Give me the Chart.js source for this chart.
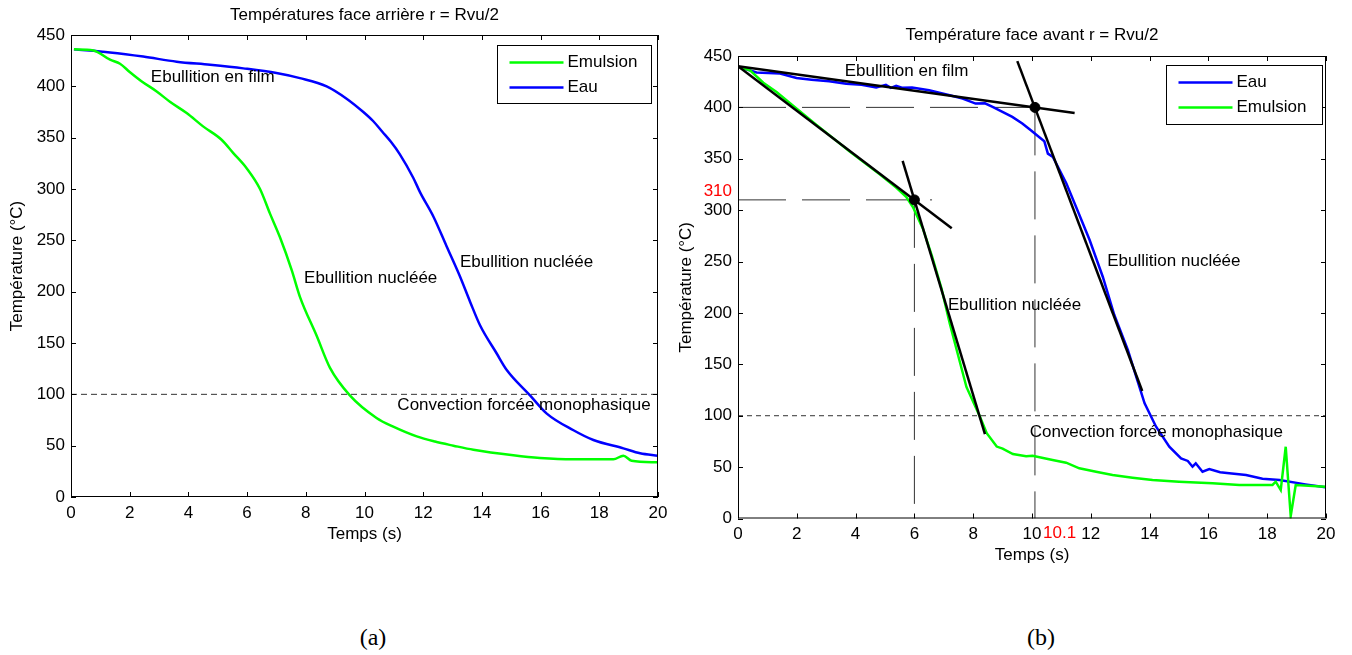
<!DOCTYPE html>
<html lang="fr">
<head>
<meta charset="UTF-8">
<title>Températures r = Rvu/2</title>
<script src="https://cdn.jsdelivr.net/npm/chart.js"></script>
<style>
  body { margin: 0; background: #fff; width: 1352px; height: 655px; position: relative; overflow: hidden; }
  .panel { position: absolute; top: 0; }
  .caption { position: absolute; top: 623px; line-height: 28px; font-family: 'Liberation Serif', 'Times New Roman', serif; font-size: 24px; transform: translateX(-50%); }
</style>
</head>
<body>
<div class="panel" style="left:0"><canvas id="chartA" width="676" height="575"></canvas></div>
<div class="panel" style="left:676px"><canvas id="chartB" width="676" height="580"></canvas></div>
<div class="caption" style="left:373px">(a)</div>
<div class="caption" style="left:1041px">(b)</div>

<script>
// (a) face arrière
const tEmulsionA = [0.1, 0.76, 1.33, 1.67, 2.0, 2.4, 2.92, 3.37, 3.94, 4.5, 5.13, 5.53, 5.99, 6.44, 6.78, 7.12, 7.52, 7.8, 8.37, 8.82, 9.5, 10.41, 10.98, 11.78, 12.4, 13.03, 13.71, 15.07, 15.98, 17.1, 18.48, 18.82, 19.1, 20];
const vEmulsionA = [436, 435, 426, 422, 414, 405, 395, 385, 374, 361, 348, 335, 320, 300, 276, 253, 221, 195, 157, 126, 99, 77, 68.5, 59, 54, 50, 46, 40.6, 38, 36.7, 36.7, 40.2, 35.4, 33.8];
const tEauA = [0.1, 1.33, 2.46, 3.6, 4.74, 5.87, 7.0, 7.8, 8.71, 9.39, 9.96, 10.3, 10.6, 10.9, 11.2, 11.66, 11.89, 12.35, 12.8, 13.25, 13.6, 13.94, 14.5, 14.84, 15.64, 16.2, 17.12, 17.8, 18.82, 19.39, 20];
const vEauA = [436, 433, 429, 424, 421, 417.5, 413, 408, 400, 388, 375, 366, 356, 346, 334, 311, 297, 273, 244, 215, 190, 167, 140, 124, 99, 81.5, 65, 55.5, 47.4, 42.6, 40.2];

// (b) face avant
const tEauB = [0.07, 0.63, 1.43, 1.99, 2.5, 3.1, 3.68, 4.2, 4.7, 5.03, 5.2, 5.38, 5.6, 5.92, 6.5, 7.2, 7.64, 8.08, 8.4, 8.66, 9.33, 9.67, 9.96, 10.25, 10.42, 10.54, 10.71, 11.17, 11.5, 11.96, 12.41, 12.8, 13.26, 13.6, 13.83, 14.22, 14.67, 15.07, 15.3, 15.46, 15.57, 15.8, 16.03, 16.4, 16.71, 17.28, 17.84, 18.42, 19.3, 19.98];
const vEauB = [439, 434, 433, 428.6, 427, 425.4, 423, 422, 419.3, 422, 419, 421, 419, 419.3, 416.7, 411.8, 408.6, 403.7, 404, 400.4, 390.7, 384.3, 377.7, 371, 367, 355, 351.8, 326, 303, 271, 235, 198, 164, 133, 112, 89.3, 69.8, 58.5, 56, 50.4, 53.7, 45.5, 48.1, 45, 44, 42.3, 38.7, 37.4, 33.2, 30.3];
const tEmulsionB = [0.07, 0.41, 0.86, 1.31, 1.77, 2.67, 3.8, 4.82, 5.38, 5.72, 5.95, 6.29, 6.6, 6.92, 7.2, 7.77, 8.23, 8.46, 8.8, 9.0, 9.35, 9.8, 10.02, 10.7, 11.16, 11.61, 12.18, 12.74, 13.42, 14.1, 15.0, 16.14, 17.05, 18.18, 18.29, 18.46, 18.63, 18.8, 18.97, 19.98];
const vEmulsionB = [439, 436, 424, 415, 404, 383, 357, 335, 322, 313, 303, 282, 255, 224, 190, 128, 99, 83, 70, 68, 62.7, 60.5, 61, 57, 54.3, 48.8, 45.5, 42.3, 39.7, 37.4, 35.8, 34.2, 32.6, 32.6, 35.8, 27.7, 69.8, 2.4, 32.6, 31];

// tangentes et points d'intersection (b)
const tFilmEau = [0, 11.45],   vFilmEau = [440, 394.5];
const tFilmEmul = [0, 7.27],   vFilmEmul = [440, 282.5];
const tNuclEmul = [5.6, 8.4],  vNuclEmul = [348, 82];
const tNuclEau = [9.5, 13.75], vNuclEau = [445, 124];
const tPoints = [6, 10.1],     vPoints = [310, 400];

// seuil 100 °C et axes
const tSeuil = [0, 20], vSeuil = [100, 100];
const xTickValues = [0, 2, 4, 6, 8, 10, 12, 14, 16, 18, 20];
const yTickValues = [0, 50, 100, 150, 200, 250, 300, 350, 400, 450];

const FONT = "'Liberation Sans', Arial, Helvetica, sans-serif";
const GREEN = '#00ff00', BLUE = '#0000ff';
Chart.defaults.color = '#000';
Chart.defaults.font.family = FONT;
Chart.defaults.font.size = 17;

function pts(ts, vs) { return ts.map((t, i) => ({ x: t, y: vs[i] })); }

function curve(label, ts, vs, color, order, smooth) {
    return {
        label: label, data: pts(ts, vs), showLine: true,
        borderColor: color, backgroundColor: color, borderWidth: 2.5,
        pointRadius: 0, order: order,
        tension: smooth ? 0.4 : 0,
        cubicInterpolationMode: smooth ? 'monotone' : 'default'
    };
}

function guide(ts, vs, dash, order) {
    return {
        label: '', data: pts(ts, vs), showLine: true,
        borderColor: '#333', borderWidth: 1, borderDash: dash,
        pointRadius: 0, order: order
    };
}

// cadre, graduations intérieures, titre, textes, légende
const decor = {
    id: 'decor',
    afterDraw(chart, args, o) {
        const { ctx, chartArea: a, scales: { x, y } } = chart;
        ctx.save();
        ctx.strokeStyle = '#000';
        ctx.lineWidth = 1;
        ctx.strokeRect(a.left + 0.5, a.top + 0.5, a.width - 1, a.height - 1);
        ctx.beginPath();
        x.ticks.forEach(t => {
            const px = Math.round(x.getPixelForValue(t.value)) + 0.5;
            ctx.moveTo(px, a.bottom); ctx.lineTo(px, a.bottom - 5);
            ctx.moveTo(px, a.top); ctx.lineTo(px, a.top + 5);
        });
        y.ticks.forEach(t => {
            const py = Math.round(y.getPixelForValue(t.value)) + 0.5;
            ctx.moveTo(a.left, py); ctx.lineTo(a.left + 5, py);
            ctx.moveTo(a.right, py); ctx.lineTo(a.right - 5, py);
        });
        ctx.stroke();

        ctx.font = '17px ' + FONT;
        ctx.textBaseline = 'middle';
        ctx.fillStyle = '#000';
        ctx.textAlign = 'center';
        ctx.fillText(o.title, (a.left + a.right) / 2, a.top - o.titleGap);

        o.notes.forEach(n => {
            ctx.fillStyle = n.color || '#000';
            ctx.textAlign = n.align || 'left';
            ctx.fillText(n.text, x.getPixelForValue(n.x) + (n.dx || 0), y.getPixelForValue(n.y) + (n.dy || 0));
        });

        // légende
        const L = o.legend;
        const bx = Math.round(a.right - L.right - L.width) + 0.5, by = Math.round(a.top + L.top) + 0.5;
        ctx.fillStyle = '#fff';
        ctx.fillRect(bx, by, L.width, L.height);
        ctx.strokeStyle = '#000';
        ctx.strokeRect(bx, by, L.width, L.height);
        L.items.forEach((name, i) => {
            const ds = chart.data.datasets.find(d => d.label === name);
            const ly = by + 17 + i * 25;
            ctx.strokeStyle = ds.borderColor;
            ctx.lineWidth = 2.5;
            ctx.beginPath(); ctx.moveTo(bx + 12, ly); ctx.lineTo(bx + 66, ly); ctx.stroke();
            ctx.fillStyle = '#000';
            ctx.textAlign = 'left';
            ctx.fillText(name, bx + 70, ly);
        });
        ctx.restore();
    }
};

function axes(xHeight, xTitlePad, yWidth, yTitlePad) {
    const tickFont = { family: FONT, size: 17 };
    return {
        x: {
            type: 'linear', min: 0, max: 20,
            afterBuildTicks: s => { s.ticks = xTickValues.map(v => ({ value: v })); },
            afterFit: s => { s.height = xHeight; },
            grid: { display: false, drawTicks: false }, border: { display: false },
            ticks: { font: tickFont, padding: 6, maxRotation: 0, autoSkip: false },
            title: { display: true, text: 'Temps (s)', font: tickFont, padding: { top: 0, bottom: xTitlePad } }
        },
        y: {
            type: 'linear', min: 0, max: 450,
            afterBuildTicks: s => { s.ticks = yTickValues.map(v => ({ value: v })); },
            afterFit: s => { s.width = yWidth; },
            grid: { display: false, drawTicks: false }, border: { display: false },
            ticks: { font: tickFont, padding: 6, autoSkip: false },
            title: { display: true, text: 'Température (°C)', font: tickFont, padding: { top: yTitlePad, bottom: 0 } }
        }
    };
}

new Chart(document.getElementById('chartA'), {
    type: 'scatter',
    data: {
        datasets: [
            curve('Emulsion', tEmulsionA, vEmulsionA, GREEN, 1, true),
            curve('Eau', tEauA, vEauA, BLUE, 2, true),
            guide(tSeuil, vSeuil, [6, 4], 3)
        ]
    },
    options: {
        responsive: false, animation: false, events: [],
        layout: { padding: { top: 35, right: 18, left: 0, bottom: 0 } },
        scales: axes(78, 30, 71, 7),
        plugins: {
            legend: { display: false }, tooltip: { enabled: false },
            decor: {
                title: 'Températures face arrière r = Rvu/2', titleGap: 20,
                notes: [
                    { text: 'Ebullition en film', x: 2.72, y: 409 },
                    { text: 'Ebullition nucléée', x: 7.94, y: 213 },
                    { text: 'Ebullition nucléée', x: 13.25, y: 229 },
                    { text: 'Convection forcée monophasique', x: 11.12, y: 89.6 }
                ],
                legend: { items: ['Emulsion', 'Eau'], width: 154, height: 58, right: 7, top: 10 }
            }
        }
    },
    plugins: [decor]
});

new Chart(document.getElementById('chartB'), {
    type: 'scatter',
    data: {
        datasets: [
            { label: '', data: pts(tPoints, vPoints), pointRadius: 5, backgroundColor: '#000', borderColor: '#000', order: -1 },
            curve('', tFilmEau, vFilmEau, '#000', 0, false),
            curve('', tFilmEmul, vFilmEmul, '#000', 0, false),
            curve('', tNuclEmul, vNuclEmul, '#000', 0, false),
            curve('', tNuclEau, vNuclEau, '#000', 0, false),
            curve('Emulsion', tEmulsionB, vEmulsionB, GREEN, 1, false),
            curve('Eau', tEauB, vEauB, BLUE, 2, false),
            guide(tSeuil, vSeuil, [5, 4], 3),
            guide([0, 10.1], [400, 400], [48, 16], 3),
            guide([0, 6.6], [310, 310], [48, 16], 3),
            guide([6, 6], [310, 0], [48, 16], 3),
            guide([10.1, 10.1], [400, 0], [48, 16], 3)
        ]
    },
    options: {
        responsive: false, animation: false, events: [],
        layout: { padding: { top: 56, right: 26, left: 0, bottom: 0 } },
        scales: axes(61.5, 14, 62, 0),
        plugins: {
            legend: { display: false }, tooltip: { enabled: false },
            decor: {
                title: 'Température face avant r = Rvu/2', titleGap: 21,
                notes: [
                    { text: 'Ebullition en film', x: 3.63, y: 435 },
                    { text: 'Ebullition nucléée', x: 7.14, y: 207 },
                    { text: 'Ebullition nucléée', x: 12.56, y: 250 },
                    { text: 'Convection forcée monophasique', x: 9.92, y: 83.4 },
                    { text: '310', x: 0, y: 310, dx: -6, dy: -9, align: 'right', color: '#ff0000' },
                    { text: '10.1', x: 10, y: 0, dx: 11, dy: 15, align: 'left', color: '#ff0000' }
                ],
                legend: { items: ['Eau', 'Emulsion'], width: 156, height: 59, right: 4, top: 9 }
            }
        }
    },
    plugins: [decor]
});
</script>
</body>
</html>
